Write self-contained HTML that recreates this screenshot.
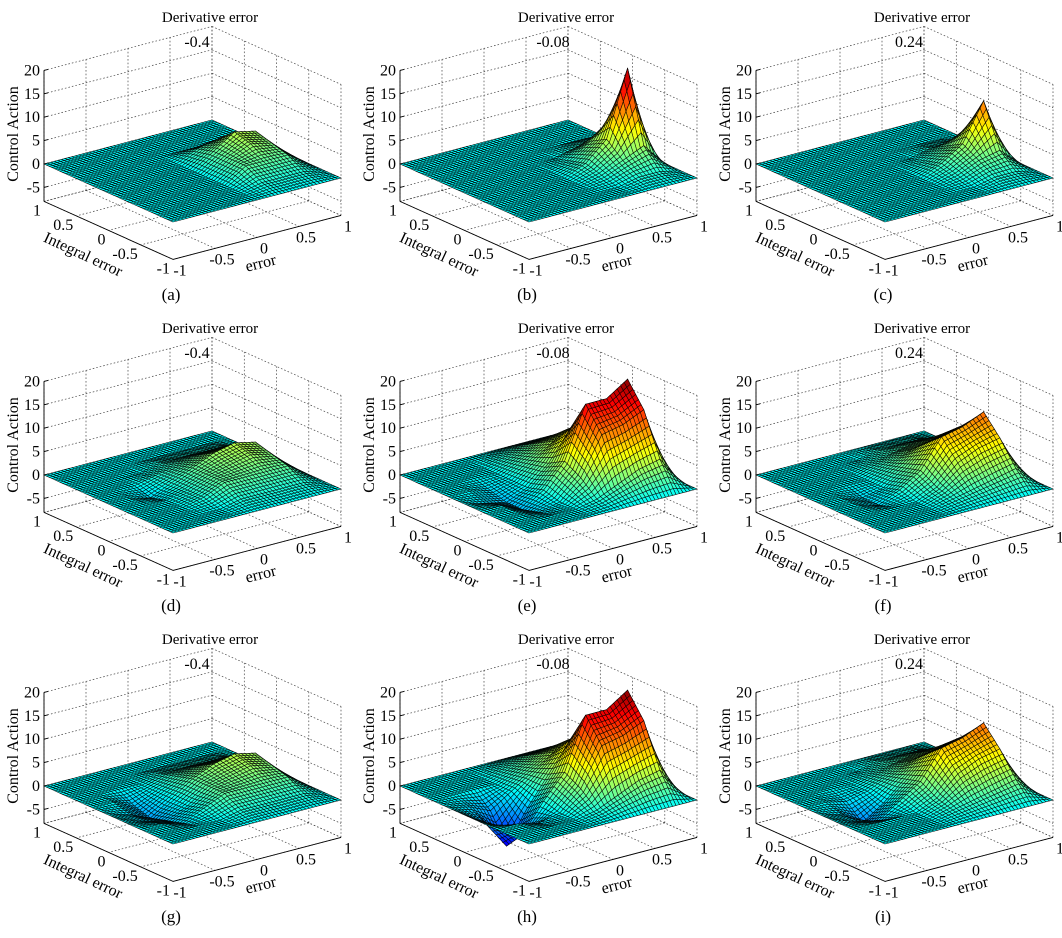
<!DOCTYPE html>
<html><head><meta charset="utf-8"><style>
html,body{margin:0;padding:0;background:#fff;}
svg{display:block;font-family:"Liberation Serif",serif;}
</style></head><body>
<svg id="fig" width="1062" height="938" viewBox="0 0 1062 938" xmlns="http://www.w3.org/2000/svg"></svg>
<script>
const errorTicks=[-1,-0.5,0,0.5,1];
const integralTicks=[-1,-0.5,0,0.5,1];
const zTicks=[-5,0,5,10,15,20];
const gridAxis=[-1,-0.75,-0.5,-0.25,0,0.25,0.5,0.75,1];
const derivativeLabels=['-0.4','-0.08','0.24'];
const panelLetters=['(a)','(b)','(c)','(d)','(e)','(f)','(g)','(h)','(i)'];
// rows: integral error -1..1 ; columns: error -1..1
const surfA=[[0,0,0,0,0,0,0,0,0],[0,0,0,0,0,1,1,1,0],[0,0,0,0,0,3,3,3,0],[0,0,0,0,0,3,5,4,0],[0,0,0,0,0,3,6,5,0],[0,0,0,0,0,2,3,2,0],[0,0,0,0,0,0,0,0,0],[0,0,0,0,0,0,0,0,0],[0,0,0,0,0,0,0,0,0]];
const surfB=[[0,0,0,0,0,0,0,0,0],[0,0,0,0,0,0,1,1,0],[0,0,0,0,0,1,3,5,0],[0,0,0,0,0,2,6,20,0],[0,0,0,0,0,1,4,8,0],[0,0,0,0,0,0,1,2,0],[0,0,0,0,0,0,0,0,0],[0,0,0,0,0,0,0,0,0],[0,0,0,0,0,0,0,0,0]];
const surfC=[[0,0,0,0,0,0,0,0,0],[0,0,0,0,0,0,1,1,0],[0,0,0,0,0,1,3,4,0],[0,0,0,0,0,2,5,13,0],[0,0,0,0,0,1,3,6,0],[0,0,0,0,0,0,1,1,0],[0,0,0,0,0,0,0,0,0],[0,0,0,0,0,0,0,0,0],[0,0,0,0,0,0,0,0,0]];
const surfD=[[0,0,0,0,0,0,0,0,0],[0,0,0,0,1,1,1,1,0],[0,0,0,1,3,3,3,3,0],[0,0,0,1,3,4,5,4,0],[0,0,-1,1,3,5,6,5,0],[0,0,0,1,2,3,3,3,0],[0,0,0,0,1,1,1,1,0],[0,0,0,0,0,0,0,0,0],[0,0,0,0,0,0,0,0,0]];
const surfE=[[0,0,0,0,0,0,0,0,0],[0,0,0,0,1,3,5,6,0],[0,0,-1,0,4,12,13,15,0],[0,0,-2,1,6,17,17,20,0],[0,-1,-2,0,4,10,12,13,0],[0,0,-1,0,3,6,8,9,0],[0,0,0,0,2,4,5,5,0],[0,0,0,0,1,2,2,2,0],[0,0,0,0,0,0,0,0,0]];
const surfF=[[0,0,0,0,0,0,0,0,0],[0,0,0,0,1,2,3,4,0],[0,0,0,0,2,6,8,9,0],[0,0,-1,1,4,10,11,13,0],[0,0,-1,0,3,7,8,9,0],[0,0,0,0,2,4,5,6,0],[0,0,0,0,1,2,3,3,0],[0,0,0,0,0,1,1,1,0],[0,0,0,0,0,0,0,0,0]];
const surfG=[[0,0,0,0,0,0,0,0,0],[0,0,0,0,1,1,1,1,0],[0,0,-1,1,3,3,3,3,0],[0,-1,-2,0,3,4,5,4,0],[0,-1,-3,0,3,5,6,5,0],[0,0,-2,0,2,3,3,3,0],[0,0,0,0,1,1,1,1,0],[0,0,0,0,0,0,0,0,0],[0,0,0,0,0,0,0,0,0]];
const surfH=[[0,0,0,0,0,0,0,0,0],[0,0,0,0,1,3,5,6,0],[0,0,-1,0,4,12,13,15,0],[0,-2,-5,1,6,17,17,20,0],[0,-3,-9,-2,4,10,12,13,0],[0,-1,-3,0,3,6,8,9,0],[0,0,0,0,2,4,5,5,0],[0,0,0,0,1,2,2,2,0],[0,0,0,0,0,0,0,0,0]];
const surfI=[[0,0,0,0,0,0,0,0,0],[0,0,0,0,1,2,3,4,0],[0,0,0,0,2,6,8,9,0],[0,-1,-2,1,4,10,11,13,0],[0,-1,-4,-1,3,7,8,9,0],[0,0,-1,0,2,4,5,6,0],[0,0,0,0,1,2,3,3,0],[0,0,0,0,0,1,1,1,0],[0,0,0,0,0,0,0,0,0]];
const surfaces=[surfA,surfB,surfC,surfD,surfE,surfF,surfG,surfH,surfI];

const svg=document.getElementById('fig');
const NS='http://www.w3.org/2000/svg';
const ZMIN=-8, ZMAX=20, ZS=4.68;
function mk(tag,attrs,parent){const el=document.createElementNS(NS,tag);for(const k in attrs)el.setAttribute(k,attrs[k]);(parent||svg).appendChild(el);return el;}
function proj(px,py,e,i,z){return [px+129*(1-i)/2+168*(e+1)/2, py+58*(1-i)/2-44*(e+1)/2-ZS*z];}
function jet(z){let f=0.375+0.031*z;f=Math.max(0,Math.min(1,f));const c=v=>Math.round(255*Math.max(0,Math.min(1,1.5-Math.abs(v))));return 'rgb('+c(4*f-3)+','+c(4*f-2)+','+c(4*f-1)+')';}
function sample(d,e,i){const n=gridAxis.length-1;let u=(e+1)/2*n,v=(i+1)/2*n;let a=Math.min(n-1,Math.floor(u)),b=Math.min(n-1,Math.floor(v));const fu=u-a,fv=v-b;
 return d[b][a]*(1-fu)*(1-fv)+d[b][a+1]*fu*(1-fv)+d[b+1][a]*(1-fu)*fv+d[b+1][a+1]*fu*fv;}
function line(g,p,q,dotted,name){const l=mk('line',{x1:p[0].toFixed(1),y1:p[1].toFixed(1),x2:q[0].toFixed(1),y2:q[1].toFixed(1),stroke:dotted?'#444':'#000','stroke-width':dotted?0.7:0.9,'stroke-dasharray':dotted?'1.6,2':'none'},g);
 
 return l;}
function text(g,x,y,s,size,anchor,name,rot){const t=mk('text',{x:x,y:y,'font-size':size,'text-anchor':anchor||'middle',fill:'#000'},g);t.textContent=s;
 if(rot!==undefined)t.setAttribute('transform','rotate('+rot+' '+x+' '+y+')');
 
 return t;}

for(let k=0;k<9;k++){
 const col=k%3,row=Math.floor(k/3);
 const px=44+col*356, py=164+row*311;
 const g=mk('g',{});
 
 
 const P=(e,i,z)=>proj(px,py,e,i,z);
 for(const z of zTicks.concat([ZMIN])){line(g,P(-1,1,z),P(1,1,z),true,'grid-line');line(g,P(1,1,z),P(1,-1,z),true,'grid-line');}
 for(const e of errorTicks){line(g,P(e,1,ZMIN),P(e,1,ZMAX),true,'grid-line');line(g,P(e,1,ZMIN),P(e,-1,ZMIN),true,'grid-line');}
 for(const i of integralTicks){line(g,P(1,i,ZMIN),P(1,i,ZMAX),true,'grid-line');line(g,P(1,i,ZMIN),P(-1,i,ZMIN),true,'grid-line');}
 const d=surfaces[k], N=48, quads=[];
 for(let a=0;a<N;a++)for(let b=0;b<N;b++){
  const e0=-1+2*a/N,e1=-1+2*(a+1)/N,i0=-1+2*b/N,i1=-1+2*(b+1)/N;
  const z00=sample(d,e0,i0),z10=sample(d,e1,i0),z11=sample(d,e1,i1),z01=sample(d,e0,i1);
  const depth=58*(1-(i0+i1)/2)/2-44*((e0+e1)/2+1)/2;
  quads.push({depth,pts:[P(e0,i0,z00),P(e1,i0,z10),P(e1,i1,z11),P(e0,i1,z01)],z:(z00+z10+z11+z01)/4});
 }
 quads.sort((p,q)=>p.depth-q.depth);
 const sg=mk('g',{stroke:'#000','stroke-width':0.6,'stroke-opacity':0.85},g);
 
 
 for(const q of quads){const pl=mk('polygon',{points:q.pts.map(p=>p[0].toFixed(1)+','+p[1].toFixed(1)).join(' '),fill:jet(q.z)},sg);
  
  }
 line(g,P(-1,1,ZMIN),P(-1,1,ZMAX),false,'z-axis');
 line(g,P(-1,1,ZMIN),P(-1,-1,ZMIN),false,'integral-axis');
 line(g,P(-1,-1,ZMIN),P(1,-1,ZMIN),false,'error-axis');
 for(const z of zTicks){const p=P(-1,1,z);line(g,p,[p[0]+4,p[1]-1],false,'z-tick');text(g,p[0]-4,p[1]+5,String(z),16,'end','z-tick-label');}
 for(const e of errorTicks){const p=P(e,-1,ZMIN);text(g,p[0]+7,p[1]+16,String(e),16,'middle','error-tick-label');}
 for(const i of integralTicks){const p=P(-1,i,ZMIN);text(g,p[0]-3,p[1]+14,String(i),16,'end','integral-tick-label');}
 text(g,px-26,py-30,'Control Action',16,'middle','z-axis-title',-90);
 text(g,px+37,py+95,'Integral error',16,'middle','integral-axis-title',25);
 text(g,px+218,py+104,'error',16,'middle','error-axis-title',-14);
 text(g,px+166,py-142,'Derivative error',15,'middle','panel-title');
 text(g,px+153,py-117,derivativeLabels[col],16,'middle','derivative-value');
 text(g,px+127,py+136,panelLetters[k],17,'middle','panel-label');
}
</script>
</body></html>
